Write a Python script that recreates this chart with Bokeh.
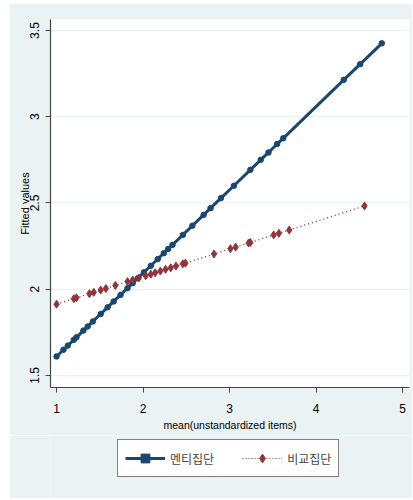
from bokeh.plotting import figure
from bokeh.models import FixedTicker, Legend, LegendItem
from bokeh.layouts import column
from bokeh.embed import file_html
from bokeh.resources import INLINE

# Data
mentee_x = [1.0, 1.08, 1.13, 1.20, 1.23, 1.31, 1.36, 1.42, 1.51, 1.59, 1.66, 1.74, 1.82,
            1.88, 1.94, 2.01, 2.09, 2.17, 2.24, 2.29, 2.34, 2.46, 2.57, 2.70, 2.78, 2.90,
            3.05, 3.24, 3.36, 3.45, 3.55, 3.62, 4.32, 4.51, 4.76]
mentee_y = [1.610, 1.649, 1.673, 1.707, 1.721, 1.760, 1.784, 1.813, 1.856, 1.895, 1.929,
            1.967, 2.006, 2.035, 2.064, 2.098, 2.136, 2.175, 2.209, 2.233, 2.257, 2.315,
            2.368, 2.431, 2.470, 2.528, 2.600, 2.692, 2.750, 2.793, 2.842, 2.875, 3.214,
            3.305, 3.426]
comp_x = [1.0, 1.20, 1.23, 1.38, 1.43, 1.51, 1.57, 1.68, 1.82, 1.88, 1.95, 2.03, 2.09,
          2.14, 2.20, 2.26, 2.32, 2.38, 2.46, 2.49, 2.82, 3.01, 3.07, 3.22, 3.24, 3.51,
          3.57, 3.69, 4.56]
comp_y = [1.913, 1.945, 1.950, 1.974, 1.982, 1.995, 2.004, 2.022, 2.044, 2.054, 2.065,
          2.078, 2.087, 2.095, 2.105, 2.115, 2.124, 2.134, 2.147, 2.151, 2.204, 2.235,
          2.244, 2.268, 2.271, 2.315, 2.324, 2.343, 2.483]
series_labels = ["멘티집단", "비교집단"]
x_ticks = [1, 2, 3, 4, 5]
y_ticks = [1.5, 2, 2.5, 3, 3.5]
y_tick_labels = ["1.5", "2", "2.5", "3", "3.5"]
x_title = "mean(unstandardized items)"
y_title = "Fitted values"

BG = "#eaf2f3"
NAVY = "#1a476f"
MAROON = "#90353b"
SANS = "Liberation Sans"
W = 403
BORDER_L = 41
BORDER_R = 3

p = figure(width=W, height=432, x_range=(0.93, 5.08), y_range=(1.43, 3.564),
           output_backend="svg", toolbar_location=None,
           min_border_left=BORDER_L, min_border_top=16, min_border_right=BORDER_R,
           min_border_bottom=48)
p.background_fill_color = "white"
p.border_fill_color = BG
p.outline_line_color = None

p.xgrid.visible = False
p.ygrid.grid_line_color = BG
p.ygrid.grid_line_width = 1.5

p.xaxis.ticker = FixedTicker(ticks=x_ticks)
p.yaxis.ticker = FixedTicker(ticks=y_ticks)
p.yaxis.major_label_overrides = {t: s for t, s in zip(y_ticks, y_tick_labels)}
p.yaxis.major_label_orientation = "vertical"
for ax in (p.xaxis, p.yaxis):
    ax.axis_line_color = "#444444"
    ax.axis_line_width = 1.2
    ax.major_tick_line_color = "#444444"
    ax.major_tick_out = 5
    ax.major_tick_in = 0
    ax.minor_tick_line_color = None
    ax.major_label_text_color = "black"
    ax.major_label_text_font = SANS
    ax.major_label_text_font_size = "12px"
    ax.axis_label_text_color = "black"
    ax.axis_label_text_font = SANS
    ax.axis_label_text_font_style = "normal"
p.xaxis.axis_label = x_title
p.xaxis.axis_label_text_font_size = "10.5px"
p.xaxis.major_label_standoff = 11
p.xaxis.axis_label_standoff = 3
p.yaxis.axis_label = y_title
p.yaxis.axis_label_text_font_size = "11px"
p.yaxis.major_label_standoff = 6
p.yaxis.axis_label_standoff = -3

p.line(mentee_x, mentee_y, line_color=NAVY, line_width=3)
p.scatter(mentee_x, mentee_y, marker="circle", size=5.5, fill_color=NAVY, line_color=NAVY)
p.line(comp_x, comp_y, line_color=MAROON, line_width=1.4, line_dash="1 3")
p.scatter(comp_x, comp_y, marker="diamond", size=8, fill_color=MAROON, line_color=MAROON)

# legend strip below the chart; its glyphs reuse the series data but the
# ranges keep them out of view, so only the legend shows
p2 = figure(width=W, height=63, x_range=(-20, -19), y_range=(-20, -19),
            x_axis_type=None, y_axis_type=None,
            output_backend="svg", toolbar_location=None,
            min_border_left=BORDER_L, min_border_right=BORDER_R,
            min_border_top=0, min_border_bottom=0)
p2.background_fill_color = BG
p2.border_fill_color = BG
p2.outline_line_color = None
p2.grid.visible = False
k1 = p2.line(mentee_x, mentee_y, line_color=NAVY, line_width=3)
m1 = p2.scatter(mentee_x, mentee_y, marker="square", size=4.5, fill_color=NAVY, line_color=NAVY)
k2 = p2.line(comp_x, comp_y, line_color=MAROON, line_width=1.2, line_dash="1 2")
m2 = p2.scatter(comp_x, comp_y, marker="diamond", size=8, fill_color=MAROON, line_color=MAROON)

legend = Legend(items=[LegendItem(label=series_labels[0], renderers=[k1, m1]),
                       LegendItem(label=series_labels[1], renderers=[k2, m2])],
                orientation="horizontal", location=(67, 21))
legend.border_line_color = "black"
legend.border_line_width = 1.3
legend.background_fill_color = "white"
legend.background_fill_alpha = 1
legend.label_text_font = "Noto Sans CJK KR"
legend.label_text_font_size = "12px"
legend.glyph_width = 40
legend.glyph_height = 22
legend.label_height = 22
legend.label_standoff = 5
legend.spacing = 28
legend.padding = 7
legend.margin = 0
p2.add_layout(legend, "center")

open("out.html", "w").write(file_html(column(p, p2, spacing=0, margin=(3, 0, 0, 9)), INLINE))
